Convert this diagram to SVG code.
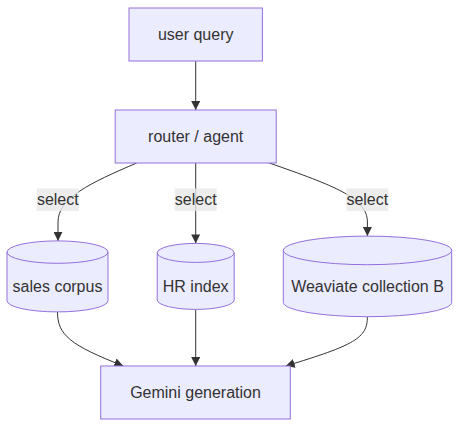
<svg xmlns="http://www.w3.org/2000/svg" width="467" height="435" viewBox="0 0 467 435">
<style>
.node rect, .node path{fill:#ECECFF;stroke:#9370DB;stroke-width:1px;}
text{font-family:"Liberation Sans",Arial,sans-serif;font-size:16px;fill:#333333;text-anchor:middle;dominant-baseline:central;}
.edge{fill:none;stroke:#333333;stroke-width:1px;marker-end:url(#arrow);}
.lbl rect{fill:#e8e8e8;opacity:0.8;}
</style>
<defs>
<marker id="arrow" viewBox="0 0 10 10" refX="10" refY="5" markerWidth="9" markerHeight="9" markerUnits="userSpaceOnUse" orient="auto">
<path d="M0,0 L10,5 L0,10 z" fill="#333333"/>
</marker>
</defs>
<g id="edges">
<path class="edge" d="M195.7,61 L195.7,110"/>
<path class="edge" d="M136.7,163 C90,183 58,198 58,222 L58,240.9"/>
<path class="edge" d="M195.7,163 L195.7,243.4"/>
<path class="edge" d="M269.3,163 C335,186 367.4,198 367.4,222 L367.4,236.1"/>
<path class="edge" d="M57.5,311.9 C57.5,335 70,345 123.3,366"/>
<path class="edge" d="M195.7,309.4 L195.7,366"/>
<path class="edge" d="M367.4,316.7 C367.4,338 355,345 285.7,366"/>
</g>
<g id="edge-labels">
<g class="lbl"><rect x="36.8" y="188.4" width="42" height="22.6"/><text x="57.8" y="199.7">select</text></g>
<g class="lbl"><rect x="174.7" y="188.4" width="42" height="22.6"/><text x="195.7" y="199.7">select</text></g>
<g class="lbl"><rect x="346.3" y="188.4" width="42" height="22.6"/><text x="367.3" y="199.7">select</text></g>
</g>
<g id="user-query" class="node">
<rect x="129" y="8" width="133.4" height="53"/>
<text x="195.7" y="34.5">user query</text>
</g>
<g id="router-agent" class="node">
<rect x="115.2" y="110" width="161" height="53"/>
<text x="195.7" y="136.5">router / agent</text>
</g>
<g id="sales-corpus" class="node">
<path d="M7,252.1 a50.5,11.2 0 0 0 101,0 a50.5,11.2 0 0 0 -101,0 l0,48.6 a50.5,11.2 0 0 0 101,0 l0,-48.6"/>
<text x="57.5" y="286">sales corpus</text>
</g>
<g id="hr-index" class="node">
<path d="M157.2,252.9 a38.5,9.5 0 0 0 77,0 a38.5,9.5 0 0 0 -77,0 l0,47 a38.5,9.5 0 0 0 77,0 l0,-47"/>
<text x="195.7" y="286">HR index</text>
</g>
<g id="weaviate-collection-b" class="node">
<path d="M283.3,250.4 a84.2,14.3 0 0 0 168.4,0 a84.2,14.3 0 0 0 -168.4,0 l0,52 a84.2,14.3 0 0 0 168.4,0 l0,-52"/>
<text x="367.5" y="286">Weaviate collection B</text>
</g>
<g id="gemini-generation" class="node">
<rect x="100.7" y="366" width="189.6" height="53"/>
<text x="195.5" y="392.5">Gemini generation</text>
</g>
</svg>
